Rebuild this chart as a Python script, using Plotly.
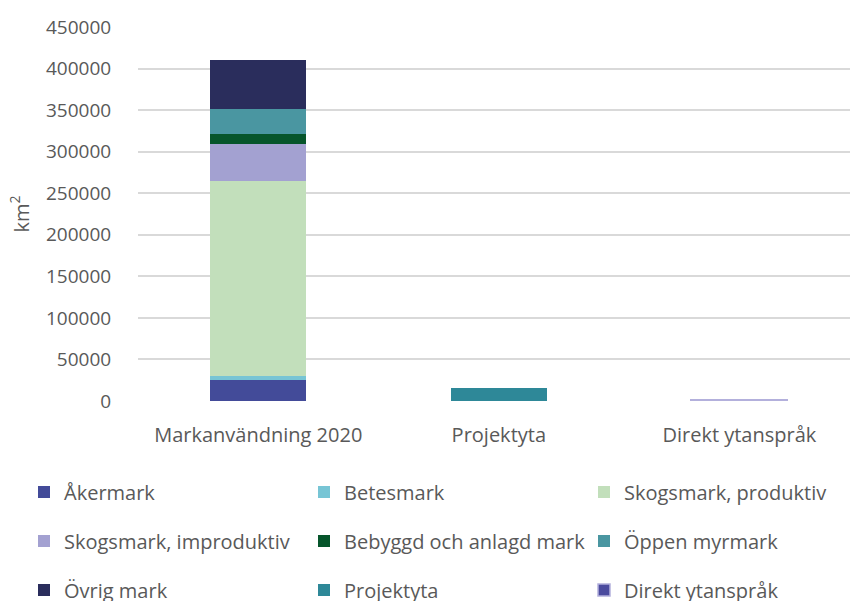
import plotly.graph_objects as go

categories = ["Markanvändning 2020", "Projektyta", "Direkt ytanspråk"]

akermark = [25300, None, None]
betesmark = [4500, None, None]
skog_prod = [234500, None, None]
skog_improd = [44500, None, None]
bebyggd = [12000, None, None]
oppen_myr = [30000, None, None]
ovrig = [59000, None, None]
projektyta = [None, 15500, None]
direkt = [None, None, 1700]

series_names = ["Åkermark", "Betesmark", "Skogsmark, produktiv",
                "Skogsmark, improduktiv", "Bebyggd och anlagd mark", "Öppen myrmark",
                "Övrig mark", "Projektyta", "Direkt ytanspråk"]
series_values = [akermark, betesmark, skog_prod, skog_improd, bebyggd, oppen_myr,
                 ovrig, projektyta, direkt]
series_colors = ["#434B99", "#77C5D5", "#C2DFBB", "#A3A1D1", "#06552B", "#4A96A1",
                 "#2A2D5C", "#2E8898", "#4B4B9E"]

y_ticks = [0, 50000, 100000, 150000, 200000, 250000, 300000, 350000, 400000, 450000]

FONT = "Open Sans"
TXT = "#595959"
W, H = 850, 601

col_x = [24, 304, 584]
row_y = [492, 541, 590]

fig = go.Figure()
legends = {}
for i, (name, vals, col) in enumerate(zip(series_names, series_values, series_colors)):
    key = "legend" if i == 0 else f"legend{i + 1}"
    line = dict(width=0)
    if name == "Direkt ytanspråk":
        line = dict(width=1.5, color="#B3B0DC")
    fig.add_trace(go.Bar(
        name=name, x=categories, y=vals, marker=dict(color=col, line=line),
        legend=key,
    ))
    r, c = divmod(i, 3)
    legends[key] = dict(
        orientation="h", xref="container", yref="container",
        xanchor="left", yanchor="middle",
        x=col_x[c] / W, y=1 - row_y[r] / H,
        font=dict(family=FONT, size=20, color=TXT),
        bgcolor="rgba(0,0,0,0)",
    )

fig.update_layout(
    width=W, height=H,
    barmode="stack", bargap=0.6,
    plot_bgcolor="white", paper_bgcolor="white",
    margin=dict(l=138, r=0, t=27, b=200, autoexpand=False),
    font=dict(family=FONT, size=19, color=TXT),
    showlegend=True,
    **legends,
    xaxis=dict(
        type="category", range=[-0.5, 2.46],
        showgrid=False, showline=False, zeroline=False,
        ticks="outside", ticklen=16, tickcolor="rgba(0,0,0,0)",
        tickfont=dict(family=FONT, size=20, color=TXT),
    ),
    yaxis=dict(
        range=[0, 450000], tickvals=y_ticks,
        ticktext=[str(v) for v in y_ticks],
        showgrid=True, gridcolor="#D9D9D9", gridwidth=1.5,
        zeroline=False, showline=False,
        ticks="outside", ticklen=22, tickcolor="rgba(0,0,0,0)",
        tickfont=dict(family=FONT, size=19, color=TXT),
        title=dict(text="km<sup>2</sup>", font=dict(family=FONT, size=20, color=TXT), standoff=11),
        automargin=False,
    ),
)

fig.write_html("out.html", config={"displayModeBar": False},
               post_script="document.body.style.margin='0px';")
